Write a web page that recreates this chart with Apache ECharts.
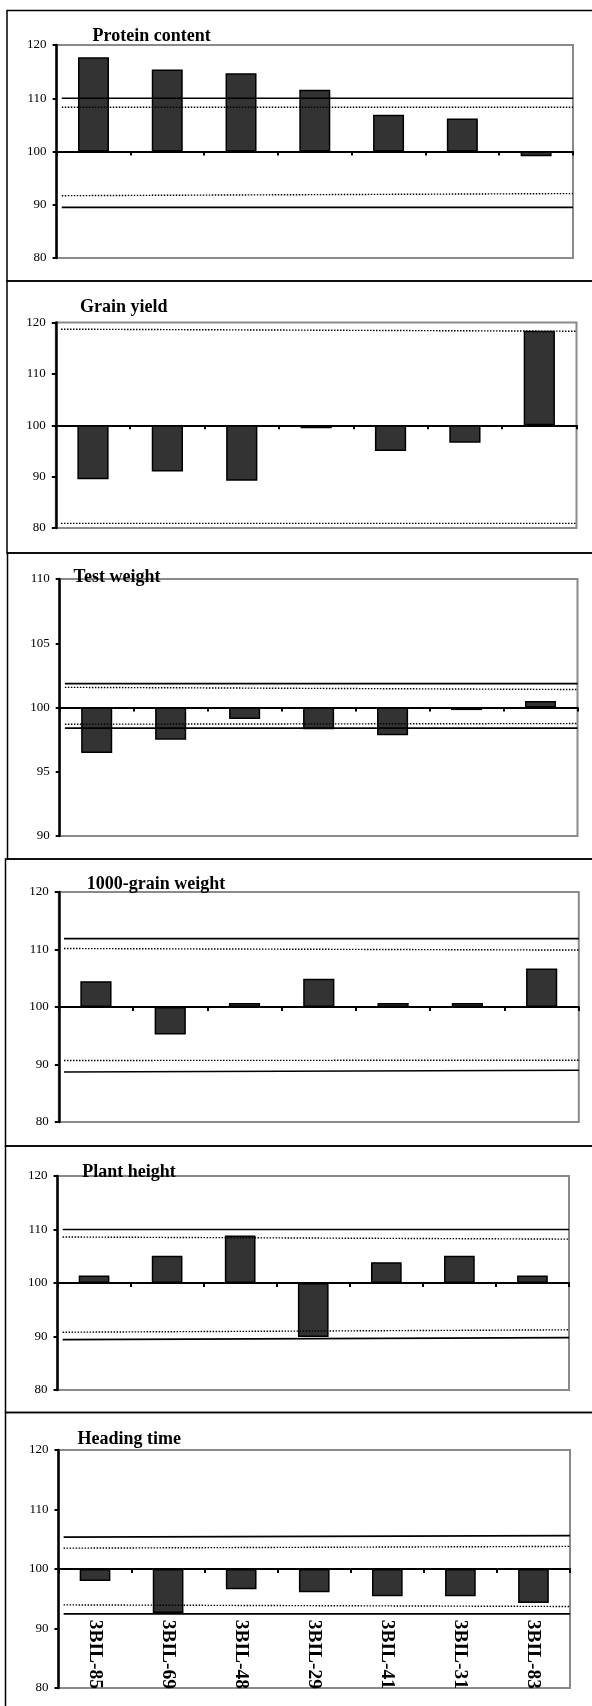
<!DOCTYPE html>
<html><head><meta charset="utf-8">
<script src="https://cdn.jsdelivr.net/npm/echarts@6/dist/echarts.min.js"></script>
<style>html,body{margin:0;padding:0;background:#fff}#c{width:592px;height:1706px}</style>
</head><body><div id="c"></div>
<script>
// ---------- data ----------
const categories = ['3BIL-85', '3BIL-69', '3BIL-48', '3BIL-29', '3BIL-41', '3BIL-31', '3BIL-83'];
const panelTitles = ['Protein content', 'Grain yield', 'Test weight', '1000-grain weight', 'Plant height', 'Heading time'];

const proteinContent = [117.7, 115.4, 114.7, 111.6, 106.9, 106.2, 99.1];
const grainYield     = [89.5, 91.0, 89.2, 99.4, 95.0, 96.6, 118.4];
const testWeight     = [96.45, 97.5, 99.1, 98.3, 97.85, 99.8, 100.5];
const grainWeight    = [104.5, 95.2, 100.7, 104.9, 100.7, 100.7, 106.7];
const plantHeight    = [101.4, 105.1, 108.9, 89.9, 103.9, 105.1, 101.4];
const headingTime    = [98.0, 92.6, 96.6, 96.1, 95.4, 95.4, 94.3];

// reference lines: [value at left end, value at right end]
const proteinSolid  = [[110.0, 110.0], [89.5, 89.5]];
const proteinDotted = [[108.3, 108.3], [91.7, 92.1]];
const yieldSolid    = [];
const yieldDotted   = [[118.7, 118.3], [80.9, 80.9]];
const testSolid     = [[101.86, 101.86], [98.4, 98.4]];
const testDotted    = [[101.57, 101.4], [98.7, 98.75]];
const grainSolid    = [[111.9, 111.9], [88.7, 89.0]];
const grainDotted   = [[110.17, 109.9], [90.7, 90.75]];
const heightSolid   = [[110.0, 110.0], [89.4, 89.8]];
const heightDotted  = [[108.6, 108.2], [90.8, 91.25]];
const headingSolid  = [[105.36, 105.6], [92.46, 92.46]];
const headingDotted = [[103.5, 103.8], [93.97, 93.7]];

// axis ranges: [min, max, interval]
const axisWide  = [80, 120, 10];
const axisTest  = [90, 110, 5];
const baseline = 100;

// ---------- layout ----------
const panels = [
  {values: proteinContent, solid: proteinSolid, dotted: proteinDotted, axis: axisWide},
  {values: grainYield, solid: yieldSolid, dotted: yieldDotted, axis: axisWide},
  {values: testWeight, solid: testSolid, dotted: testDotted, axis: axisTest},
  {values: grainWeight, solid: grainSolid, dotted: grainDotted, axis: axisWide},
  {values: plantHeight, solid: heightSolid, dotted: heightDotted, axis: axisWide},
  {values: headingTime, solid: headingSolid, dotted: headingDotted, axis: axisWide}
];
const layout = [
  {l: 56.6, t: 45,   r: 573,   b: 258,  tx: 92.5, ty: 36,   fl: 7,   ft: 10.5, fb: 281},
  {l: 55.8, t: 322.5,r: 576.5, b: 528,  tx: 80,   ty: 307,  fl: 7,   ft: 281,  fb: 553},
  {l: 59.7, t: 579,  r: 577.5, b: 836,  tx: 73.6, ty: 577,  fl: 7.5, ft: 553,  fb: 859},
  {l: 58.8, t: 892,  r: 578.8, b: 1122, tx: 86.8, ty: 884,  fl: 5.5, ft: 859,  fb: 1146},
  {l: 57.5, t: 1176, r: 569,   b: 1390, tx: 82.3, ty: 1172, fl: 5.5, ft: 1146, fb: 1412.5},
  {l: 58.5, t: 1450, r: 570,   b: 1688, tx: 77.4, ty: 1439, fl: 5.5, ft: 1412.5, fb: 1712}
];
const FONT = '"Liberation Serif", "Times New Roman", serif';

const grid = [], xAxis = [], yAxis = [], series = [], graphic = [];
panels.forEach((p, i) => {
  const L = layout[i];
  grid.push({left: L.l, top: L.t, width: L.r - L.l, height: L.b - L.t, show: true,
    borderColor: '#8a8a8a', borderWidth: 2, backgroundColor: 'transparent'});
  yAxis.push({gridIndex: i, type: 'value', min: p.axis[0] - baseline, max: p.axis[1] - baseline, interval: p.axis[2],
    axisLine: {show: true, onZero: false, lineStyle: {color: '#000', width: 2.5}},
    axisTick: {show: true, length: 4, lineStyle: {color: '#000', width: 2}},
    axisLabel: {margin: 10, color: '#000', fontFamily: FONT, fontSize: 13, formatter: v => String(Math.round(v + baseline))},
    splitLine: {show: false}});
  const catIdx = xAxis.length;
  xAxis.push({gridIndex: i, type: 'category', data: categories, position: 'bottom',
    axisLine: {show: true, onZero: true, lineStyle: {color: '#000', width: 2}},
    axisTick: {show: true, interval: 0, length: 4, lineStyle: {color: '#000', width: 2}},
    axisLabel: {show: false}, splitLine: {show: false}});
  const valIdx = xAxis.length;
  xAxis.push({gridIndex: i, type: 'value', min: 0, max: 1, position: 'top', show: false});
  if (i === panels.length - 1) {
    xAxis.push({gridIndex: i, type: 'category', data: categories, position: 'bottom',
      axisLine: {show: false, onZero: false}, axisTick: {show: false}, splitLine: {show: false},
      axisLabel: {show: true, inside: true, rotate: -90, interval: 0, margin: -1, color: '#000',
        fontFamily: FONT, fontWeight: 'bold', fontSize: 19.5}});
  }
  series.push({type: 'bar', xAxisIndex: catIdx, yAxisIndex: i, barWidth: '42%', silent: true,
    data: p.values.map(v => +(v - baseline).toFixed(3)),
    itemStyle: {color: '#333333', borderColor: '#000', borderWidth: 1.5}, z: 2});
  p.solid.forEach(s => series.push({type: 'line', xAxisIndex: valIdx, yAxisIndex: i, symbol: 'none', silent: true,
    data: [[0.01, s[0] - baseline], [1, s[1] - baseline]], lineStyle: {color: '#000', width: 1.7, type: 'solid'}, z: 4}));
  p.dotted.forEach(s => series.push({type: 'line', xAxisIndex: valIdx, yAxisIndex: i, symbol: 'none', silent: true,
    data: [[0.01, s[0] - baseline], [1, s[1] - baseline]], lineStyle: {color: '#000', width: 1.4, type: [1.5, 1.5]}, z: 4}));
  graphic.push({type: 'rect', shape: {x: L.fl, y: L.ft, width: 700, height: L.fb - L.ft},
    style: {fill: 'none', stroke: '#000', lineWidth: 1.5}, z: -1, silent: true});
  graphic.push({type: 'text', x: L.tx, y: L.ty, silent: true, z: 10,
    style: {text: panelTitles[i], fontFamily: FONT, fontWeight: 'bold', fontSize: 18, fill: '#000',
      align: 'left', verticalAlign: 'middle', textAlign: 'left', textVerticalAlign: 'middle'}});
});

const chart = echarts.init(document.getElementById('c'), null, {renderer: 'canvas'});
chart.setOption({animation: false, backgroundColor: '#fff', grid, xAxis, yAxis, series, graphic});
</script></body></html>
